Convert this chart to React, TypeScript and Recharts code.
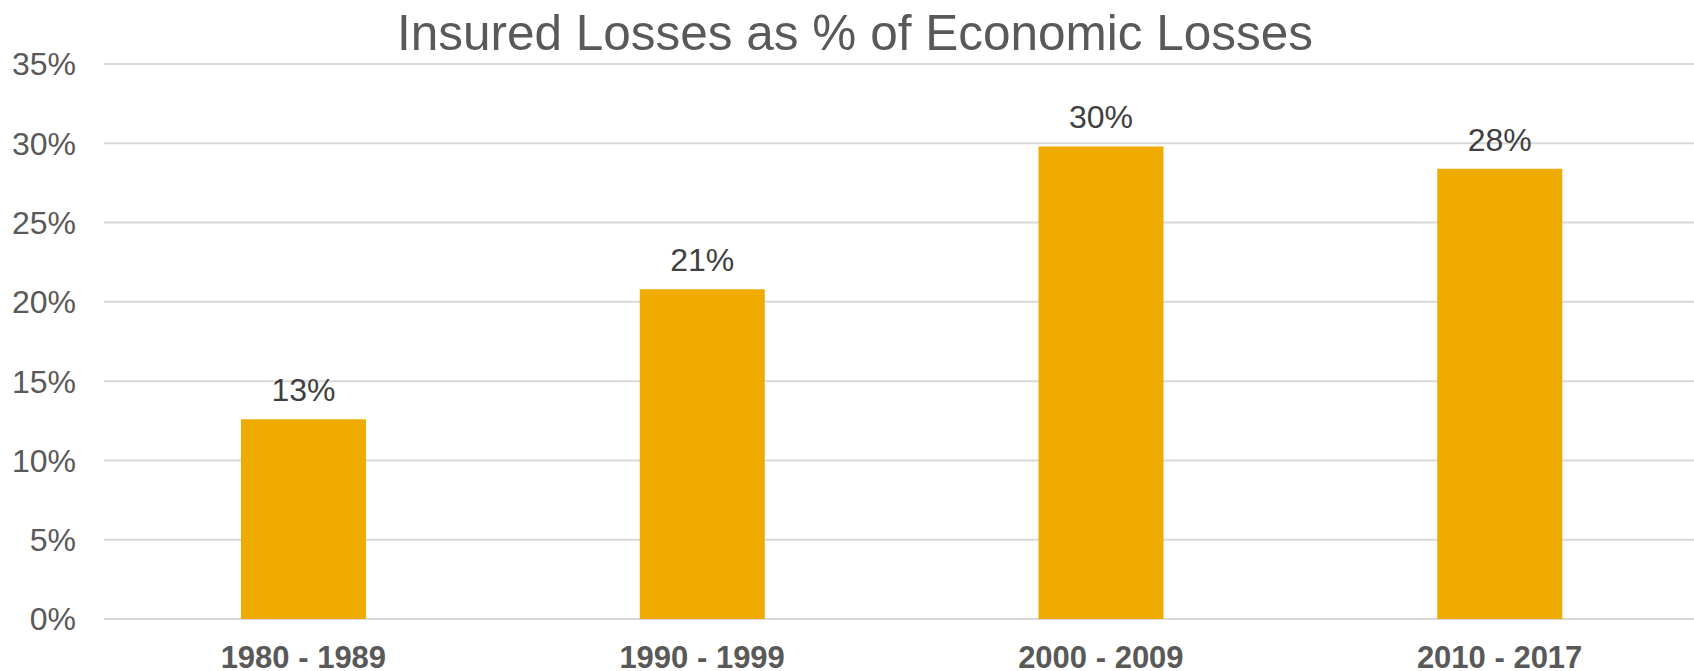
import React from 'react';
import { BarChart, Bar, XAxis, YAxis, CartesianGrid, LabelList } from 'recharts';

const categories = ['1980 - 1989', '1990 - 1999', '2000 - 2009', '2010 - 2017'];
const insuredShare = [12.6, 20.8, 29.8, 28.4];
const yTicks = [0, 5, 10, 15, 20, 25, 30, 35];
const title = 'Insured Losses as % of Economic Losses';

const data = categories.map((c, i) => ({ name: c, value: insuredShare[i] }));

const FONT = '"Liberation Sans", Arial, sans-serif';

export default function App() {
  return (
    <div style={{ position: 'absolute', left: 0, top: 0, width: 1694, height: 671, background: '#fff', fontFamily: FONT, overflow: 'hidden' }}>
      <div
        style={{
          position: 'absolute',
          left: 0,
          width: 1710,
          top: 6,
          textAlign: 'center',
          fontSize: 49.5,
          color: '#595959',
          lineHeight: '54px',
          whiteSpace: 'nowrap',
        }}
      >
        {title}
      </div>
      <BarChart
        width={1699}
        height={671}
        data={data}
        margin={{ top: 64, right: 0, bottom: 0, left: 0 }}
        barSize={125}
      >
        <CartesianGrid vertical={false} stroke="#d9d9d9" strokeWidth={2} />
        <XAxis
          dataKey="name"
          axisLine={false}
          tickLine={false}
          tickSize={0}
          tickMargin={27}
          height={52}
          interval={0}
          tick={{ fill: '#595959', fontSize: 31, fontWeight: 'bold', fontFamily: FONT }}
        />
        <YAxis
          domain={[0, 35]}
          ticks={yTicks}
          width={104}
          axisLine={false}
          tickLine={false}
          tickSize={0}
          tickMargin={28}
          tickFormatter={(v: number) => `${v}%`}
          tick={{ fill: '#595959', fontSize: 32, fontFamily: FONT }}
        />
        <Bar dataKey="value" fill="#F0AB00" isAnimationActive={false}>
          <LabelList
            dataKey="value"
            position="top"
            offset={18}
            formatter={(v: number) => `${Math.round(v)}%`}
            style={{ fill: '#404040', fontSize: 32, fontFamily: FONT }}
          />
        </Bar>
      </BarChart>
    </div>
  );
}
